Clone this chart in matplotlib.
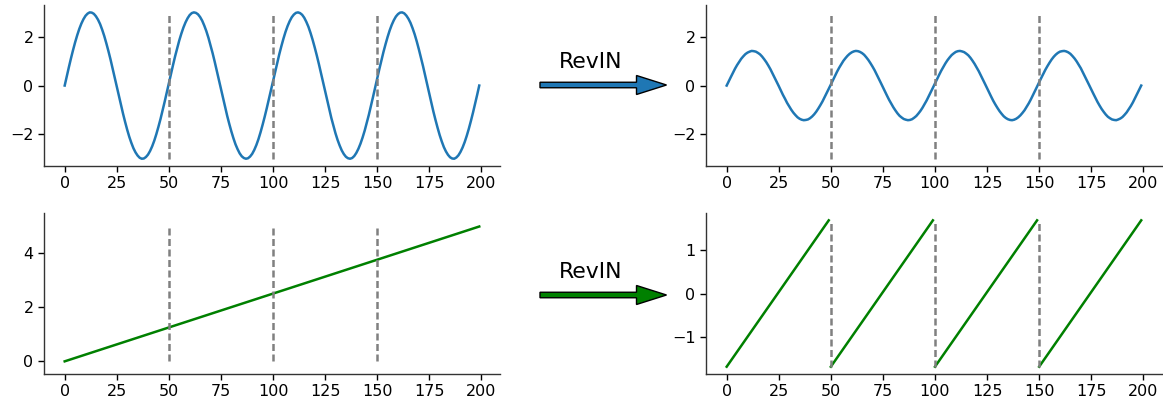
import numpy as np
import matplotlib
matplotlib.use("Agg")
import matplotlib.pyplot as plt
from matplotlib.patches import FancyArrow

# raw sine series (left top), one value per time step 0..199
sine_raw = [0.00, 0.38, 0.75, 1.11, 1.45, 1.77, 2.06, 2.32, 2.54, 2.72,
            2.86, 2.95, 3.00, 2.99, 2.94, 2.84, 2.70, 2.52, 2.29, 2.03,
            1.73, 1.41, 1.07, 0.70, 0.33, -0.05, -0.42, -0.80, -1.15, -1.49,
            -1.81, -2.10, -2.35, -2.57, -2.74, -2.87, -2.96, -3.00, -2.99, -2.93,
            -2.83, -2.68, -2.49, -2.26, -1.99, -1.69, -1.37, -1.02, -0.66, -0.28,
            0.09, 0.47, 0.84, 1.20, 1.53, 1.85, 2.13, 2.38, 2.59, 2.76,
            2.89, 2.97, 3.00, 2.98, 2.92, 2.81, 2.66, 2.46, 2.23, 1.96,
            1.65, 1.33, 0.98, 0.61, 0.24, -0.14, -0.52, -0.89, -1.24, -1.57,
            -1.88, -2.16, -2.41, -2.61, -2.78, -2.90, -2.97, -3.00, -2.98, -2.91,
            -2.80, -2.64, -2.44, -2.20, -1.92, -1.61, -1.28, -0.93, -0.56, -0.19,
            0.19, 0.56, 0.93, 1.28, 1.61, 1.92, 2.20, 2.44, 2.64, 2.80,
            2.91, 2.98, 3.00, 2.97, 2.90, 2.78, 2.61, 2.41, 2.16, 1.88,
            1.57, 1.24, 0.89, 0.52, 0.14, -0.24, -0.61, -0.98, -1.33, -1.65,
            -1.96, -2.23, -2.46, -2.66, -2.81, -2.92, -2.98, -3.00, -2.97, -2.89,
            -2.76, -2.59, -2.38, -2.13, -1.85, -1.53, -1.20, -0.84, -0.47, -0.09,
            0.28, 0.66, 1.02, 1.37, 1.69, 1.99, 2.26, 2.49, 2.68, 2.83,
            2.93, 2.99, 3.00, 2.96, 2.87, 2.74, 2.57, 2.35, 2.10, 1.81,
            1.49, 1.15, 0.80, 0.42, 0.05, -0.33, -0.70, -1.07, -1.41, -1.73,
            -2.03, -2.29, -2.52, -2.70, -2.84, -2.94, -2.99, -3.00, -2.95, -2.86,
            -2.72, -2.54, -2.32, -2.06, -1.77, -1.45, -1.11, -0.75, -0.38, 0.00]

# sine after RevIN (right top)
sine_norm = [0.00, 0.18, 0.35, 0.52, 0.69, 0.84, 0.97, 1.10, 1.20, 1.29,
             1.35, 1.39, 1.42, 1.41, 1.39, 1.34, 1.28, 1.19, 1.08, 0.96,
             0.82, 0.67, 0.50, 0.33, 0.16, -0.02, -0.20, -0.38, -0.54, -0.71,
             -0.85, -0.99, -1.11, -1.21, -1.30, -1.36, -1.40, -1.42, -1.41, -1.39,
             -1.34, -1.27, -1.18, -1.07, -0.94, -0.80, -0.65, -0.48, -0.31, -0.13,
             0.04, 0.22, 0.40, 0.57, 0.73, 0.87, 1.01, 1.12, 1.22, 1.30,
             1.36, 1.40, 1.42, 1.41, 1.38, 1.33, 1.26, 1.16, 1.05, 0.92,
             0.78, 0.63, 0.46, 0.29, 0.11, -0.07, -0.24, -0.42, -0.59, -0.74,
             -0.89, -1.02, -1.14, -1.24, -1.31, -1.37, -1.40, -1.42, -1.41, -1.38,
             -1.32, -1.25, -1.15, -1.04, -0.91, -0.76, -0.61, -0.44, -0.27, -0.09,
             0.09, 0.27, 0.44, 0.61, 0.76, 0.91, 1.04, 1.15, 1.25, 1.32,
             1.38, 1.41, 1.42, 1.40, 1.37, 1.31, 1.24, 1.14, 1.02, 0.89,
             0.74, 0.59, 0.42, 0.24, 0.07, -0.11, -0.29, -0.46, -0.63, -0.78,
             -0.92, -1.05, -1.16, -1.26, -1.33, -1.38, -1.41, -1.42, -1.40, -1.36,
             -1.30, -1.22, -1.12, -1.01, -0.87, -0.73, -0.57, -0.40, -0.22, -0.04,
             0.13, 0.31, 0.48, 0.65, 0.80, 0.94, 1.07, 1.18, 1.27, 1.34,
             1.39, 1.41, 1.42, 1.40, 1.36, 1.30, 1.21, 1.11, 0.99, 0.85,
             0.71, 0.54, 0.38, 0.20, 0.02, -0.16, -0.33, -0.50, -0.67, -0.82,
             -0.96, -1.08, -1.19, -1.28, -1.34, -1.39, -1.41, -1.42, -1.39, -1.35,
             -1.29, -1.20, -1.10, -0.97, -0.84, -0.69, -0.52, -0.35, -0.18, 0.00]

# trend series (left bottom): straight line
trend_x = [0, 199]
trend_y = [0.0, 5.0]

# trend after RevIN (right bottom): one ramp per segment
seg_starts = [0, 50, 100, 150]
seg_ends = [49, 99, 149, 199]
ramp_y = [-1.70, 1.70]

# segment boundaries
bounds = [50, 100, 150]
xticks = [0, 25, 50, 75, 100, 125, 150, 175, 200]

t = np.arange(len(sine_raw))

blue = '#1f77b4'
green = 'green'
fs = 11.5
lw = 1.8
dash = (0, (2.8, 1.4))

fig = plt.figure(figsize=(11.63, 4.05), dpi=100)
ax1 = fig.add_axes([0.0378, 0.590, 0.3921, 0.3975])
ax2 = fig.add_axes([0.6070, 0.590, 0.3921, 0.3975])
ax3 = fig.add_axes([0.0378, 0.0765, 0.3921, 0.3975])
ax4 = fig.add_axes([0.6070, 0.0765, 0.3921, 0.3975])

ax1.plot(t, sine_raw, color=blue, lw=lw)
ax1.vlines(bounds, -3, 3, colors='gray', linestyles=dash, lw=lw)
ax2.plot(t, sine_norm, color=blue, lw=lw)
ax2.vlines(bounds, -3, 3, colors='gray', linestyles=dash, lw=lw)
ax2.set_ylim(ax1.get_ylim())

ax3.plot(trend_x, trend_y, color=green, lw=lw)
ax3.vlines(bounds, 0, 5, colors='gray', linestyles=dash, lw=lw)
ax3.set_ylim(-0.47, 5.5)
for s, e in zip(seg_starts, seg_ends):
    ax4.plot([s, e], ramp_y, color=green, lw=lw)
ax4.vlines(bounds, ramp_y[0], ramp_y[1], colors='gray', linestyles=dash, lw=lw)

for ax in [ax1, ax2, ax3, ax4]:
    ax.spines['top'].set_visible(False)
    ax.spines['right'].set_visible(False)
    ax.set_xticks(xticks)
    ax.tick_params(labelsize=fs, length=4, width=1)
    for sp in ['left', 'bottom']:
        ax.spines[sp].set_linewidth(1)
        ax.spines[sp].set_color('#333333')
    ax.set_xlim(-9.95, 208.95)
ax1.set_yticks([-2, 0, 2])
ax2.set_yticks([-2, 0, 2])
ax3.set_yticks([0, 2, 4])
ax4.set_yticks([-1, 0, 1])

# RevIN arrows between the panels (inch coordinates)
for yc, col in [(3.20, blue), (1.10, green)]:
    arr = FancyArrow(5.40, yc, 1.265, 0, width=0.055, head_width=0.19,
                     head_length=0.30, length_includes_head=True,
                     facecolor=col, edgecolor='black', lw=1,
                     transform=fig.dpi_scale_trans)
    fig.add_artist(arr)
    fig.text(5.91, yc + 0.175, 'RevIN', fontsize=15.8, ha='center',
             va='baseline', transform=fig.dpi_scale_trans)

fig.savefig('out.png', dpi=100)
